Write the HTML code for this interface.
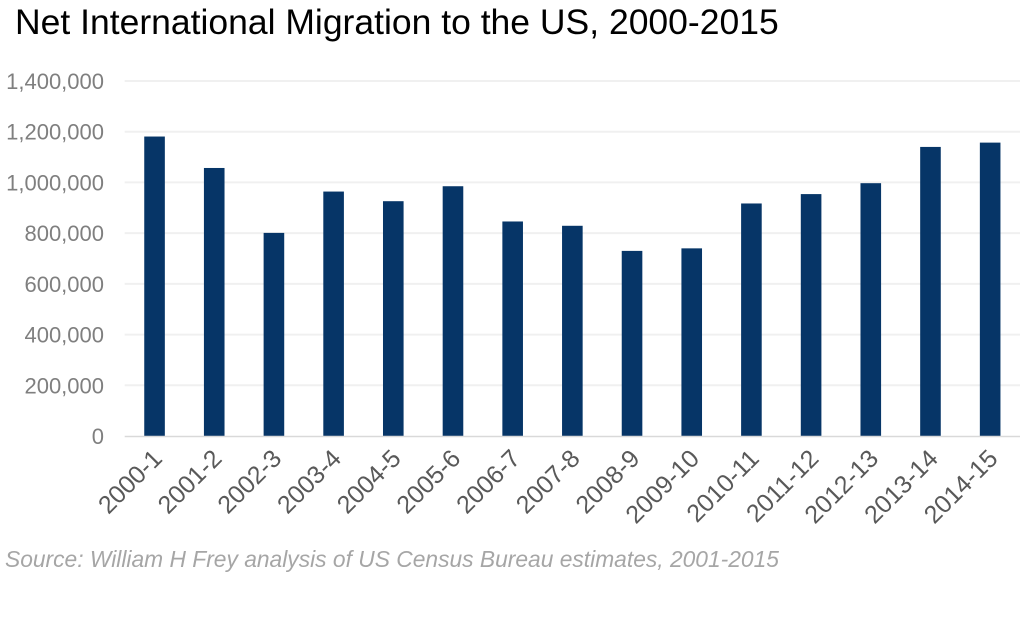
<!DOCTYPE html>
<html><head><meta charset="utf-8"><style>
body{margin:0;background:#fff;}
svg{display:block;font-family:"Liberation Sans",Arial,sans-serif;}
</style></head><body>
<svg id="chart" width="1024" height="625" xmlns="http://www.w3.org/2000/svg">
<text x="15" y="34" font-size="35.5" fill="#000">Net International Migration to the US, 2000-2015</text>
<g id="grid"></g>
<g id="yaxis"></g>
<g id="bars"></g>
<g id="xaxis"></g>
<text x="5" y="567" font-size="22.8" font-style="italic" fill="#a6a6a6">Source: William H Frey analysis of US Census Bureau estimates, 2001-2015</text>
</svg>
<script>
const categories=["2000-1","2001-2","2002-3","2003-4","2004-5","2005-6","2006-7","2007-8","2008-9","2009-10","2010-11","2011-12","2012-13","2013-14","2014-15"];
const values=[1181000,1057000,801000,964000,926000,985000,846000,829000,730000,740000,917000,954000,997000,1140000,1157000];
const yTicks=[0,200000,400000,600000,800000,1000000,1200000,1400000];
const yTickLabels=["0","200,000","400,000","600,000","800,000","1,000,000","1,200,000","1,400,000"];
const NS="http://www.w3.org/2000/svg";
const x0=124.7,x1=1020,yBase=436,yTop=81,yMax=1400000;
const y=v=>yBase-(v/yMax)*(yBase-yTop);
const step=(x1-x0)/categories.length;
const xc=i=>x0+step*(i+0.5);
function mk(tag,attrs,parent){const e=document.createElementNS(NS,tag);for(const k in attrs)e.setAttribute(k,attrs[k]);parent.appendChild(e);return e;}
const grid=document.getElementById('grid'),ya=document.getElementById('yaxis'),bars=document.getElementById('bars'),xa=document.getElementById('xaxis');
yTicks.forEach((t,i)=>{
  if(t>0){const l=mk('line',{x1:x0,x2:x1,y1:y(t),y2:y(t),stroke:'#f0f0f0','stroke-width':2},grid);
  
  }
  const tx=mk('text',{x:104,y:y(t)+8,'text-anchor':'end','font-size':22,fill:'#7f7f7f'},ya);
  tx.textContent=yTickLabels[i];
  
  
});
values.forEach((v,i)=>{
  const r=mk('rect',{x:xc(i)-10.3,y:y(v),width:20.6,height:yBase-y(v),fill:'#063567'},bars);
  
  
});
const ax=mk('line',{x1:x0,x2:x1,y1:yBase+0.5,y2:yBase+0.5,stroke:'#d9d9d9','stroke-width':1.5},xa);


categories.forEach((c,i)=>{
  const cx=xc(i)+9,cy=460;
  const t=mk('text',{x:cx,y:cy,'text-anchor':'end','font-size':25,fill:'#595959',transform:`rotate(-45 ${cx} ${cy})`},xa);
  t.textContent=c;
  
  
});
</script>
</body></html>
